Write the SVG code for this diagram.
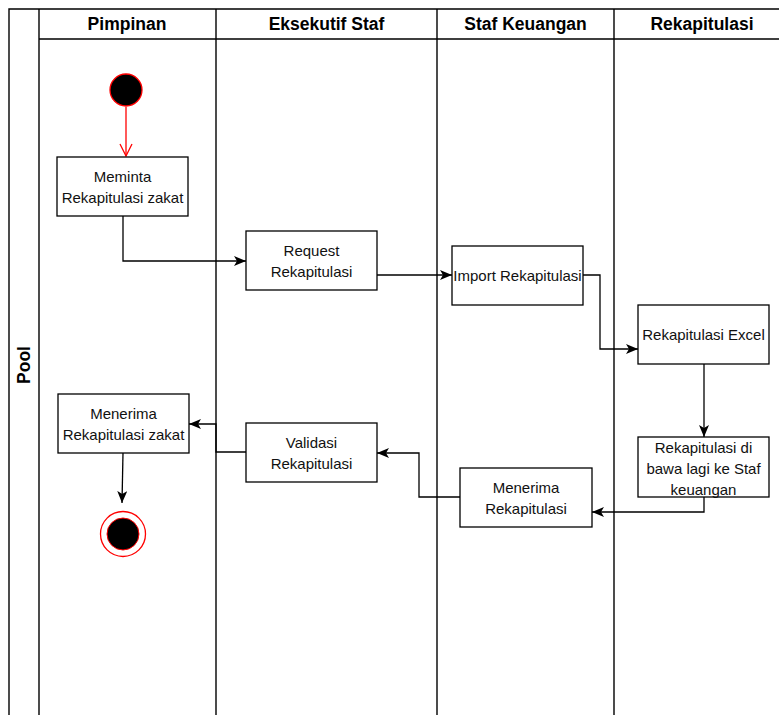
<svg xmlns="http://www.w3.org/2000/svg" width="779" height="715" viewBox="0 0 779 715">
<style>
.lane{fill:none;stroke:#000;stroke-width:1.4}
.box{fill:#fff;stroke:#000;stroke-width:1.3}
.t{font-family:"Liberation Sans",Arial,sans-serif;font-size:15px;fill:#111;text-anchor:middle;dominant-baseline:central}
.h{font-family:"Liberation Sans",Arial,sans-serif;font-size:17.5px;font-weight:bold;fill:#000;text-anchor:middle;dominant-baseline:central}
.e{fill:none;stroke:#000;stroke-width:1.3}
</style>
<defs>
<marker id="arr" viewBox="0 0 12 10" refX="12" refY="5" markerWidth="12" markerHeight="10" orient="auto" markerUnits="userSpaceOnUse">
<path d="M0,0 L12,5 L0,10 L3,5 Z" fill="#000"/>
</marker>
<marker id="open" viewBox="0 0 14 14" refX="13" refY="7" markerWidth="14" markerHeight="14" orient="auto" markerUnits="userSpaceOnUse">
<path d="M1,1 L13,7 L1,13" fill="none" stroke="#f00" stroke-width="1.3"/>
</marker>
</defs>
<rect width="779" height="715" fill="#fff"/>
<g id="pool">
<path class="lane" d="M9,715 L9,9 L790,9 M39,9 L39,715 M39,39 L790,39 M216,9 L216,715 M437,9 L437,715 M614,9 L614,715"/>
<text class="h" transform="translate(24,365) rotate(-90)">Pool</text>
<text class="h" x="127" y="24">Pimpinan</text>
<text class="h" x="326.5" y="24">Eksekutif Staf</text>
<text class="h" x="525.5" y="24">Staf Keuangan</text>
<text class="h" x="702" y="24">Rekapitulasi</text>
</g>
<g id="connectors">
<path d="M126,107 L126,156" fill="none" stroke="#f00" stroke-width="1.3" marker-end="url(#open)"/>
<path class="e" d="M123,216 L123,261 L246,261" marker-end="url(#arr)"/>
<path class="e" d="M377,275 L452,275" marker-end="url(#arr)"/>
<path class="e" d="M583,275 L600,275 L600,349 L638,349" marker-end="url(#arr)"/>
<path class="e" d="M704,364 L704,437" marker-end="url(#arr)"/>
<path class="e" d="M704,497 L704,512 L592,512" marker-end="url(#arr)"/>
<path class="e" d="M460,497 L419,497 L419,453 L377,453" marker-end="url(#arr)"/>
<path class="e" d="M246,452 L216,452 L216,424 L189,424" marker-end="url(#arr)"/>
<path class="e" d="M123,453 L122,503" marker-end="url(#arr)"/>
</g>
<g id="start">
<circle cx="126" cy="90" r="16" fill="#000" stroke="#f00" stroke-width="1.3"/>
</g>
<g id="meminta">
<rect class="box" x="57" y="157" width="131" height="59"/>
<text class="t" x="122.5" y="176.5">Meminta</text>
<text class="t" x="122.5" y="197.5">Rekapitulasi zakat</text>
</g>
<g id="request">
<rect class="box" x="246" y="231" width="131" height="59"/>
<text class="t" x="311.5" y="250.5">Request</text>
<text class="t" x="311.5" y="271.5">Rekapitulasi</text>
</g>
<g id="import">
<rect class="box" x="452" y="246" width="131" height="59"/>
<text class="t" x="517.5" y="275.5">Import Rekapitulasi</text>
</g>
<g id="excel">
<rect class="box" x="638" y="305" width="131" height="59"/>
<text class="t" x="703.5" y="334.5">Rekapitulasi Excel</text>
</g>
<g id="dibawa">
<rect class="box" x="638" y="437" width="131" height="60"/>
<text class="t" x="703.5" y="447">Rekapitulasi di</text>
<text class="t" x="703.5" y="468">bawa lagi ke Staf</text>
<text class="t" x="703.5" y="489">keuangan</text>
</g>
<g id="menerima-rekap">
<rect class="box" x="460" y="468" width="132" height="59"/>
<text class="t" x="526" y="487.5">Menerima</text>
<text class="t" x="526" y="508.5">Rekapitulasi</text>
</g>
<g id="validasi">
<rect class="box" x="246" y="423" width="131" height="59"/>
<text class="t" x="311.5" y="442.5">Validasi</text>
<text class="t" x="311.5" y="463.5">Rekapitulasi</text>
</g>
<g id="menerima-zakat">
<rect class="box" x="58" y="394" width="131" height="59"/>
<text class="t" x="123.5" y="413.5">Menerima</text>
<text class="t" x="123.5" y="434.5">Rekapitulasi zakat</text>
</g>
<g id="end">
<circle cx="123" cy="534" r="22.5" fill="#fff" stroke="#f00" stroke-width="1.3"/>
<circle cx="123" cy="534" r="16" fill="#000" stroke="#f00" stroke-width="1"/>
</g>
</svg>
